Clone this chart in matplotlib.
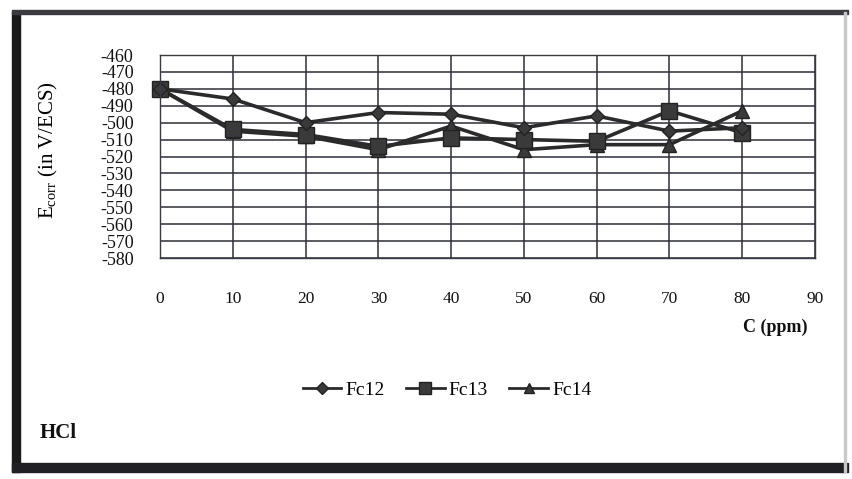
import matplotlib
matplotlib.use("Agg")
import matplotlib.pyplot as plt
from matplotlib.lines import Line2D
from matplotlib.patches import Rectangle

plt.rcParams['font.family'] = ['Liberation Serif', 'DejaVu Serif']
plt.rcParams['axes.unicode_minus'] = False

# Corrosion potential vs inhibitor concentration in HCl
conc = [0, 10, 20, 30, 40, 50, 60, 70, 80]
fc12 = [-480, -486, -500, -494, -495, -503, -496, -505, -503]
fc13 = [-480, -504, -507, -514, -509, -510, -511, -493, -506]
fc14 = [-480, -505, -508, -516, -502, -516, -513, -513, -493]
series_names = ["Fc12", "Fc13", "Fc14"]
x_ticks = list(range(0, 100, 10))
y_ticks = list(range(-460, -590, -10))

W, H = 853, 479
fig = plt.figure(figsize=(W / 100, H / 100), dpi=100)
fig.patch.set_facecolor("white")

# scanned-page frame
frame = dict(transform=fig.transFigure, figure=fig, zorder=0)
fig.patches.append(Rectangle((12 / W, 1 - 472 / H), 8 / W, 460 / H, color="#1a1a1a", **frame))
fig.patches.append(Rectangle((12 / W, 1 - 472 / H), 836 / W, 9 / H, color="#1f1f24", **frame))
fig.patches.append(Rectangle((12 / W, 1 - 14 / H), 836 / W, 4 / H, color="#3a3a40", **frame))
fig.patches.append(Rectangle((844 / W, 1 - 472 / H), 2 / W, 460 / H, color="#c8c8c8", **frame))

ax = fig.add_axes([160 / W, 1 - 258 / H, 655 / W, 203 / H])
ax.set_xlim(0, 90)
ax.set_ylim(-580, -460)
ax.set_xticks(x_ticks)
ax.set_yticks(y_ticks)
ax.grid(True, color="#2e2e3c", linewidth=1.1)
ax.set_axisbelow(True)
for s in ax.spines.values():
    s.set_color("#3a3a44")
    s.set_linewidth(1.0)
ax.tick_params(length=0, colors="#111111")
ax.tick_params(axis="x", pad=24, labelsize=12.5)
ax.tick_params(axis="y", pad=19, labelsize=13)

line_kw = dict(color="#2b2b2b", linewidth=2.6, markeredgecolor="#222222",
               markerfacecolor="#3a3a3a", clip_on=False)
ax.plot(conc, fc14, marker="^", markersize=10, label=series_names[2], **line_kw)
ax.plot(conc, fc13, marker="s", markersize=11, label=series_names[1], **line_kw)
ax.plot(conc, fc12, marker="D", markersize=7, label=series_names[0], **line_kw)

ax.set_ylabel(r"E$_{\mathregular{corr}}$ (in V/ECS)", fontsize=15, labelpad=6)
ax.yaxis.set_label_coords(-0.152, 0.53)

fig.text(808 / W, 1 - 327 / H, "C (ppm)", ha="right", va="center",
         fontsize=13, fontweight="bold", color="#111111")

handles = [Line2D([], [], marker=m, markersize=ms,
                  **dict(line_kw, clip_on=True, linewidth=2.0))
           for m, ms in (("D", 6), ("s", 8), ("^", 7))]
fig.legend(handles, series_names, loc="center", bbox_to_anchor=(447 / W, 1 - 390 / H),
           ncol=3, frameon=False, fontsize=14, handlelength=2.0, handletextpad=0.2,
           columnspacing=1.1)

fig.text(40 / W, 1 - 433 / H, "HCl", ha="left", va="center", fontsize=15,
         fontweight="bold", color="#111111")

fig.savefig("out.png", dpi=100, facecolor="white")
